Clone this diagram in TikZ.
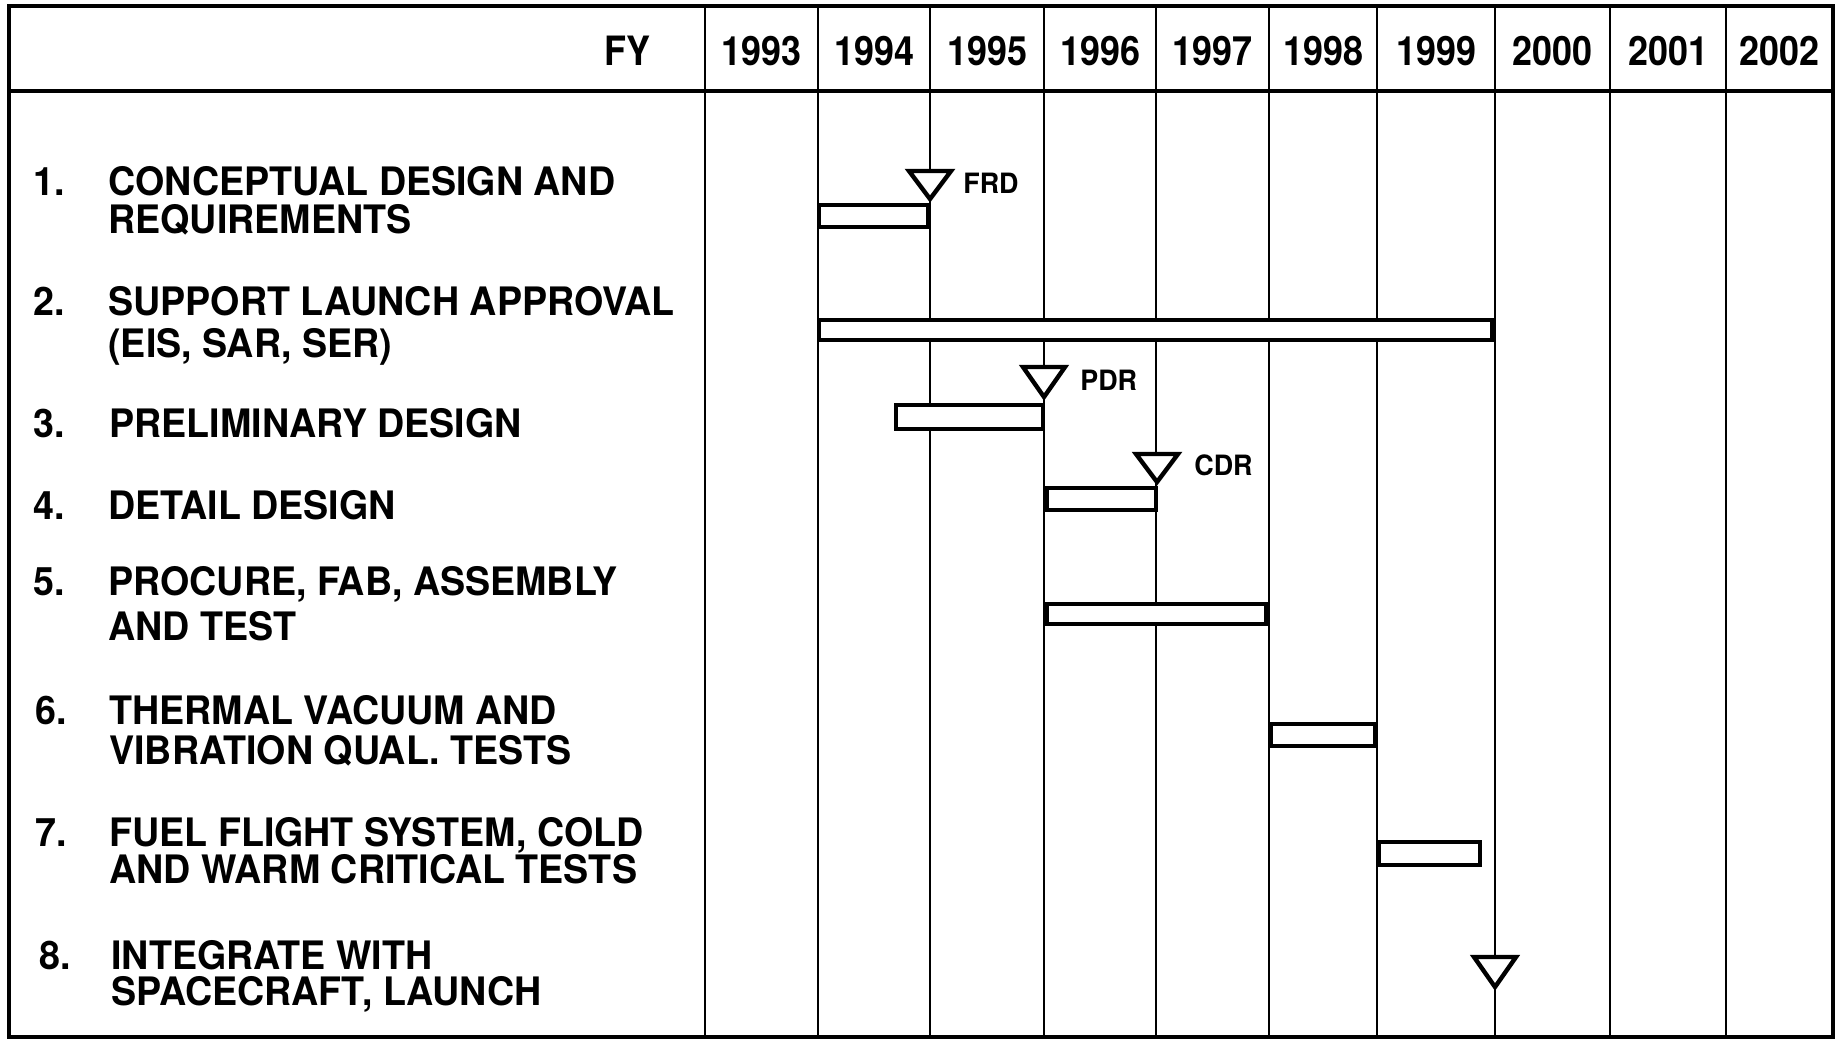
\documentclass[tikz,border=0pt]{standalone}
\usepackage{fontspec}
\setmainfont{TeX Gyre Heros}[FakeStretch=0.96]
\newfontfamily\yearfont{TeX Gyre Heros}[FakeStretch=0.89]
\begin{document}
\begin{tikzpicture}[x=0.5pt,y=-0.5pt,
  gridline/.style={line width=1.3pt},
  barbox/.style={line width=2.3pt, fill=white, draw=black},
  milestone/.style={line width=2.2pt, fill=white, draw=black, line join=miter},
  lbl/.style={anchor=base west, inner sep=0pt, font=\fontsize{19.6}{22}\selectfont\bfseries},
  yr/.style={inner sep=0pt, font=\yearfont\fontsize{20.2}{22}\selectfont\bfseries},
  mslbl/.style={anchor=west, inner sep=0pt, font=\fontsize{14}{16}\selectfont\bfseries}]
\useasboundingbox (0,0) rectangle (1837,1047);
\fill[white] (0,0) rectangle (1837,1047);
% grid
\foreach \x in {705,818,930,1044,1156,1269,1377,1495,1610,1726}
  \draw[gridline] (\x,6) -- (\x,1037);
\draw[line width=1.6pt] (9,91) -- (1833,91);
\draw[line width=2.2pt] (9,6) rectangle (1833,1037);
% header
\node[yr, anchor=east] (fy) at (651,51) {FY};
\node[yr] (y93) at (761.5,51) {1993};
\node[yr] (y94) at (874,51) {1994};
\node[yr] (y95) at (987,51) {1995};
\node[yr] (y96) at (1100,51) {1996};
\node[yr] (y97) at (1212.5,51) {1997};
\node[yr] (y98) at (1323,51) {1998};
\node[yr] (y99) at (1436,51) {1999};
\node[yr] (y00) at (1552.5,51) {2000};
\node[yr] (y01) at (1668,51) {2001};
\node[yr] (y02) at (1779.5,51) {2002};
% task labels
\node[lbl] (n1) at (33,196) {1.};
\node[lbl] (t1a) at (108,196) {CONCEPTUAL DESIGN AND};
\node[lbl] (t1b) at (108,234) {REQUIREMENTS};
\node[lbl] (n2) at (33,316) {2.};
\node[lbl] (t2a) at (108,316) {SUPPORT LAUNCH APPROVAL};
\node[lbl] (t2b) at (108,358) {(EIS, SAR, SER)};
\node[lbl] (n3) at (33,438) {3.};
\node[lbl] (t3a) at (109,438) {PRELIMINARY DESIGN};
\node[lbl] (n4) at (33,520) {4.};
\node[lbl] (t4a) at (108,520) {DETAIL DESIGN};
\node[lbl] (n5) at (33,596) {5.};
\node[lbl] (t5a) at (108,596) {PROCURE, FAB, ASSEMBLY};
\node[lbl] (t5b) at (108,641) {AND TEST};
\node[lbl] (n6) at (35,725) {6.};
\node[lbl] (t6a) at (109,725) {THERMAL VACUUM AND};
\node[lbl] (t6b) at (109,764) {VIBRATION QUAL. TESTS};
\node[lbl] (n7) at (35,846) {7.};
\node[lbl] (t7a) at (109,846) {FUEL FLIGHT SYSTEM, COLD};
\node[lbl] (t7b) at (109,883) {AND WARM CRITICAL TESTS};
\node[lbl] (n8) at (39,969) {8.};
\node[lbl] (t8a) at (111,969) {INTEGRATE WITH};
\node[lbl] (t8b) at (111,1005) {SPACECRAFT, LAUNCH};
% bars
\draw[barbox] (819,205) rectangle (928,227);
\draw[barbox] (819,320) rectangle (1492,340);
\draw[barbox] (896,405) rectangle (1043,429);
\draw[barbox] (1047,488) rectangle (1156,510);
\draw[barbox] (1047,604) rectangle (1266,624);
\draw[barbox] (1271,724) rectangle (1375,746);
\draw[barbox] (1379,842) rectangle (1480,865);
% milestones
\draw[milestone] (909,171) -- (951,171) -- (930,199) -- cycle;
\draw[milestone] (1023,367) -- (1065,367) -- (1044,397) -- cycle;
\draw[milestone] (1136,454) -- (1178,454) -- (1157,482) -- cycle;
\draw[milestone] (1474,957) -- (1516,957) -- (1495,987) -- cycle;
\node[mslbl] (frd) at (963,183) {FRD};
\node[mslbl] (pdr) at (1080,380) {PDR};
\node[mslbl] (cdr) at (1194,465) {CDR};
\end{tikzpicture}
\end{document}
